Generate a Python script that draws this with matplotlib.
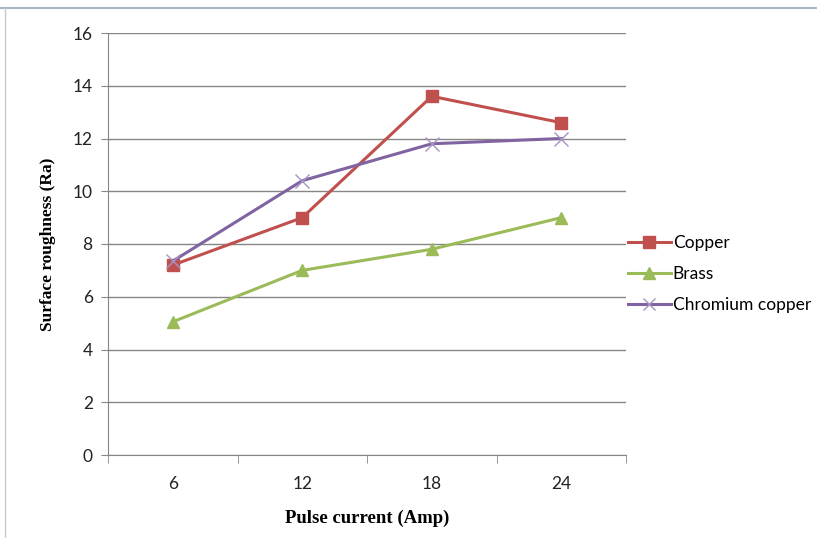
import matplotlib
matplotlib.use("Agg")
import matplotlib.pyplot as plt
from matplotlib.lines import Line2D

# data
currents = ["6", "12", "18", "24"]
copper = [7.2, 9.0, 13.6, 12.6]
brass = [5.05, 7.0, 7.8, 9.0]
chromium_copper = [7.35, 10.4, 11.8, 12.0]

C_COPPER = "#C0504D"
C_BRASS = "#9BBB59"
C_CHROM = "#8064A2"
C_GRID = "#868686"

W, H = 817, 538
fig = plt.figure(figsize=(W / 100, H / 100), dpi=100)
ax = fig.add_axes([108 / W, 1 - 455 / H, (626 - 108) / W, (455 - 33) / H])

xs = list(range(len(currents)))
ax.plot(xs, copper, color=C_COPPER, lw=2.2, marker="s", ms=9,
        mec=C_COPPER, mfc=C_COPPER, label="Copper", zorder=3)
ax.plot(xs, brass, color=C_BRASS, lw=2.2, marker="^", ms=9,
        mec=C_BRASS, mfc=C_BRASS, label="Brass", zorder=3)
ax.plot(xs, chromium_copper, color=C_CHROM, lw=2.2, marker="x", ms=10,
        mew=1.0, mec="#A594C2", label="Chromium copper", zorder=4)

ax.set_xlim(-0.5, len(currents) - 0.5)
ax.set_ylim(0, 16)
ax.set_yticks(range(0, 17, 2))
ax.yaxis.grid(True, color=C_GRID, lw=1.0)
ax.set_axisbelow(True)

ax.set_xticks(xs)
ax.set_xticklabels(currents)
ax.set_xticks([i - 0.5 for i in range(len(currents) + 1)], minor=True)
ax.tick_params(axis="x", which="major", length=0, pad=15)
ax.tick_params(axis="x", which="minor", length=6, color=C_GRID, direction="out")
ax.tick_params(axis="y", length=5, color=C_GRID, direction="out", pad=6)
for lab in ax.get_xticklabels() + ax.get_yticklabels():
    lab.set_fontfamily("Lato")
    lab.set_fontsize(12.5)
    lab.set_color("#222222")

for s in ["top", "right"]:
    ax.spines[s].set_visible(False)
ax.spines["left"].set_color(C_GRID)
ax.spines["bottom"].set_color(C_GRID)

ax.set_xlabel("Pulse current (Amp)", family="Liberation Serif",
              fontweight="bold", fontsize=13.5, labelpad=13)
ax.set_ylabel("Surface roughness (Ra)", family="Liberation Serif",
              fontweight="bold", fontsize=12.5, labelpad=12)

handles = [
    Line2D([], [], color=C_COPPER, lw=2.2, marker="s", ms=8, mfc=C_COPPER, mec=C_COPPER),
    Line2D([], [], color=C_BRASS, lw=2.2, marker="^", ms=8, mfc=C_BRASS, mec=C_BRASS),
    Line2D([], [], color=C_CHROM, lw=2.2, marker="x", ms=9, mew=1.0, mec="#A594C2"),
]
leg = fig.legend(handles, ["Copper", "Brass", "Chromium copper"],
                 loc="center left", bbox_to_anchor=(612 / W, 1 - 274 / H),
                 frameon=False, handlelength=2.5, handletextpad=0.1,
                 labelspacing=0.85, prop={"family": "Lato", "size": 12.5})

# chart frame remnants from the screenshot
fig.add_artist(Line2D([0, 1], [1 - 8 / H, 1 - 8 / H], color="#A9B4C6", lw=1.5))
fig.add_artist(Line2D([5 / W, 5 / W], [0, 1 - 8 / H], color="#C8C8C8", lw=1.0))

fig.savefig("out.png", dpi=100)
